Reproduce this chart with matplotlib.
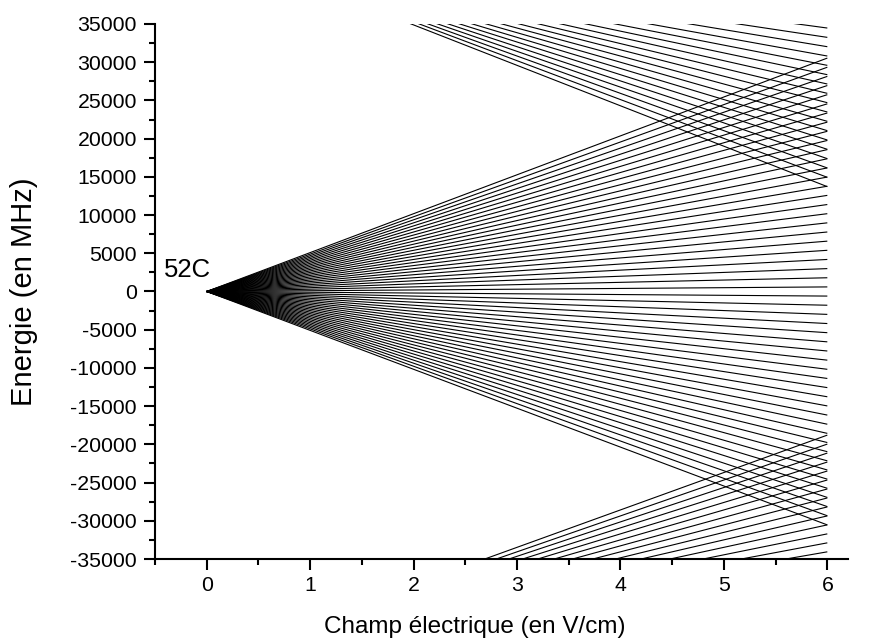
import matplotlib
matplotlib.use("Agg")
import matplotlib.pyplot as plt
from matplotlib.ticker import MultipleLocator

plt.rcParams['font.family'] = ['Liberation Sans', 'DejaVu Sans']
plt.rcParams['axes.unicode_minus'] = False

# Field range of the computation (V/cm)
field_start = 0.0
field_end = 6.0

# n = 52 manifold: zero-field energy and energy of each Stark level at 6 V/cm (MHz)
n52_zero = 0.0
n52_end = [-30540, -29343, -28145, -26947, -25750, -24552, -23354, -22157,
           -20959, -19761, -18564, -17366, -16168, -14971, -13773, -12575,
           -11378, -10180, -8982, -7785, -6587, -5390, -4192, -2994, -1797, -599,
           599, 1797, 2994, 4192, 5390, 6587, 7785, 8982, 10180, 11378,
           12575, 13773, 14971, 16168, 17366, 18564, 19761, 20959, 22157,
           23354, 24552, 25750, 26947, 28145, 29343, 30540]

# n = 53 manifold (upper), visible downward levels
n53_zero = 45454.0
n53_end = [13716, 14937, 16157, 17378, 18599, 19819, 21040, 22261, 23481,
           24702, 25923, 27144, 28364, 29585, 30806, 32026, 33247, 34468]

# n = 51 manifold (lower), visible upward levels
n51_zero = -48154.0
n51_end = [-34058, -32884, -31709, -30534, -29360, -28185, -27011, -25836,
           -24661, -23487, -22312, -21137, -19963, -18788]

fig = plt.figure(figsize=(8.72, 6.41), dpi=100)
ax = fig.add_axes([0.1778, 0.1279, 0.7947, 0.8347])

for zero, ends in ((n52_zero, n52_end), (n53_zero, n53_end), (n51_zero, n51_end)):
    for e in ends:
        ax.plot([field_start, field_end], [zero, e], color='black', lw=0.8,
                solid_capstyle='butt')

ax.set_xlim(-0.5, 6.2)
ax.set_ylim(-35000, 35000)

ax.xaxis.set_major_locator(MultipleLocator(1))
ax.xaxis.set_minor_locator(MultipleLocator(0.5))
ax.yaxis.set_major_locator(MultipleLocator(5000))
ax.yaxis.set_minor_locator(MultipleLocator(2500))

for s in ('top', 'right'):
    ax.spines[s].set_visible(False)
for s in ('left', 'bottom'):
    ax.spines[s].set_linewidth(1.5)

ax.tick_params(which='major', direction='out', length=8, width=1.5,
               labelsize=15.3, pad=5)
ax.tick_params(axis='x', which='major', pad=4)
ax.tick_params(which='minor', direction='out', length=4.3, width=1.5)

ax.set_xlabel('Champ électrique (en V/cm)', fontsize=17.5, labelpad=15, x=0.462)
ax.set_ylabel('Energie (en MHz)', fontsize=21, labelpad=23)

ax.text(-0.418, 1870, '52C', fontsize=18.5, ha='left', va='baseline')

fig.savefig('out.png', dpi=100)
